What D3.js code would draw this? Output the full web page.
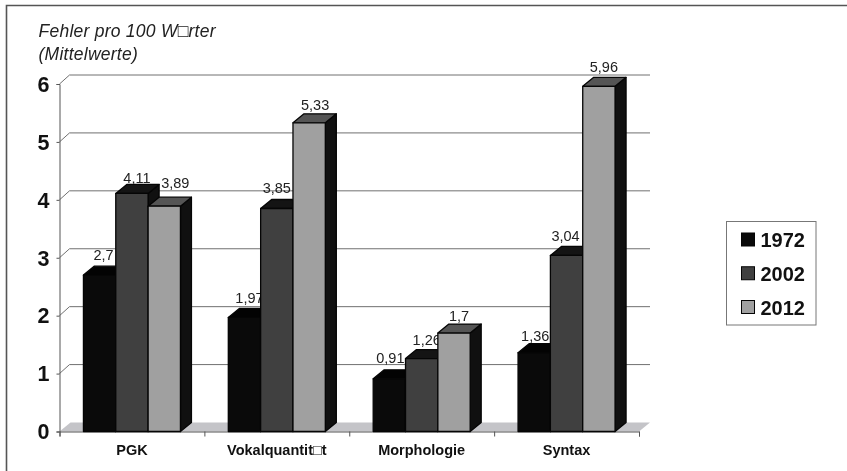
<!DOCTYPE html>
<html><head><meta charset="utf-8">
<style>html,body{margin:0;padding:0;background:#fff}svg{display:block;filter:blur(0.5px)}text{font-family:"Liberation Sans",Arial,sans-serif}</style>
<script src="https://cdn.jsdelivr.net/npm/d3@7/dist/d3.min.js"></script></head><body><div id="c"></div>
<script>
const categories=["PGK","Vokalquantit□t","Morphologie","Syntax"];
const years=["1972","2002","2012"];
const values1972=[2.7,1.97,0.91,1.36];
const values2002=[4.11,3.85,1.26,3.04];
const values2012=[3.89,5.33,1.7,5.96];
const yTicks=[0,1,2,3,4,5,6];
const labels1972=["2,7","1,97","0,91","1,36"];
const labels2002=["4,11","3,85","1,26","3,04"];
const labels2012=["3,89","5,33","1,7","5,96"];
const titleLines=["Fehler pro 100 W□rter","(Mittelwerte)"];

const W=847,H=471,dx=11,dy=-9;
const svg=d3.select("#c").append("svg").attr("width",W).attr("height",H);
const y=d3.scaleLinear().domain([0,6]).range([431.5,84]);
const x=d3.scaleBand().domain(categories).range([59.5,639]);
const inner=d3.scaleBand().domain(years).range([(x.bandwidth()-97)/2,(x.bandwidth()+97)/2]);
const colors=d3.scaleOrdinal(years,["#0a0a0a","#404040","#a0a0a0"]);
const topColors=d3.scaleOrdinal(years,["#030303","#141414","#555555"]);
const sideColor="#101010";
const series=[values1972,values2002,values2012];
const labels=[labels1972,labels2002,labels2012];
// label nudges relative to the bar's front-top centre (layout only)
const nudge=[[[4,-15],[5,-14],[1,-16],[1,-12]],[[5,-10],[0,-16],[5,-14],[-1,-14]],[[11,-18],[6,-13],[5,-12],[5,-14]]];

// frame
svg.append("path").attr("d",`M6.5,471V5.5H${W}`).attr("fill","none").attr("stroke","#555").attr("stroke-width",1.6);

// floor
svg.append("path").attr("d",`M${x.range()[0]},${y(0)}H${x.range()[1]}l${dx},${dy}H${x.range()[0]+dx}Z`).attr("fill","#c4c4c8");

// gridlines on the back wall and their diagonal connectors
const gr=svg.append("g");
gr.selectAll("path").data(yTicks.slice(1)).join("path")
 .attr("d",d=>`M${x.range()[0]},${y(d)}l${dx-1},${dy}H${x.range()[1]+dx}`)
 .attr("fill","none").attr("stroke","#707070").attr("stroke-width",1);

// axes
const ya=svg.append("g").attr("transform",`translate(${x.range()[0]},0)`)
 .call(d3.axisLeft(y).tickValues(yTicks).tickSize(3).tickPadding(7).tickFormat(d3.format("d")));
ya.selectAll("text").attr("font-size",21.5).attr("font-weight","bold").attr("fill","#111").attr("dy","0.34em");
ya.selectAll("line,path").attr("stroke","#555");
const boundaries=d3.scaleLinear().domain([0,categories.length]).range(x.range());
const xa=svg.append("g").attr("transform",`translate(0,${y(0)})`)
 .call(d3.axisBottom(boundaries).tickValues(d3.range(categories.length+1)).tickSize(5).tickFormat(""));
xa.selectAll("line,path").attr("stroke","#555");
svg.append("g").selectAll("text").data(categories).join("text")
 .attr("x",d=>x(d)+x.bandwidth()/2).attr("y",455).attr("text-anchor","middle")
 .attr("font-size",14.5).attr("font-weight","bold").attr("fill","#111").text(d=>d);

// data labels sit behind the bars
years.forEach((yr,s)=>{
 svg.append("g").selectAll("text").data(categories).join("text")
  .attr("x",(c,i)=>x(c)+inner(yr)+inner.bandwidth()/2+nudge[s][i][0])
  .attr("y",(c,i)=>y(series[s][i])+nudge[s][i][1])
  .attr("text-anchor","middle").attr("font-size",14.5).attr("fill","#222")
  .text((c,i)=>labels[s][i]);
});

// bars
categories.forEach((c,i)=>{
 years.forEach((yr,s)=>{
  const v=series[s][i],x0=x(c)+inner(yr),w=inner.bandwidth(),t=y(v),b=y(0);
  const g=svg.append("g").attr("stroke","#050505").attr("stroke-width",1.3).attr("stroke-linejoin","round");
  g.append("path").attr("d",`M${x0+w},${t}l${dx},${dy}V${b+dy}l${-dx},${-dy}Z`).attr("fill",sideColor);
  g.append("path").attr("d",`M${x0},${t}l${dx},${dy}h${w}l${-dx},${-dy}Z`).attr("fill",topColors(yr));
  g.append("rect").attr("x",x0).attr("y",t).attr("width",w).attr("height",b-t).attr("fill",colors(yr));
 });
});

// title
svg.append("g").selectAll("text").data(titleLines).join("text")
 .attr("x",38.5).attr("y",(d,i)=>37+i*23).attr("font-size",17.5).attr("font-style","italic").attr("letter-spacing",0.25).attr("fill","#222").text(d=>d);

// legend
const lg=svg.append("g");
lg.append("rect").attr("x",726.5).attr("y",221.5).attr("width",89.5).attr("height",103.5).attr("fill","#fff").attr("stroke","#777");
const ly=d3.scalePoint().domain(years).range([240,307.5]);
lg.selectAll("rect.s").data(years).join("rect").attr("class","s")
 .attr("x",741.5).attr("y",d=>ly(d)-7).attr("width",13).attr("height",13).attr("fill",d=>colors(d)).attr("stroke","#050505");
lg.selectAll("text").data(years).join("text").attr("x",760.5).attr("y",d=>ly(d)+7)
 .attr("font-size",20).attr("font-weight","bold").attr("fill","#111").text(d=>d);
</script></body></html>
